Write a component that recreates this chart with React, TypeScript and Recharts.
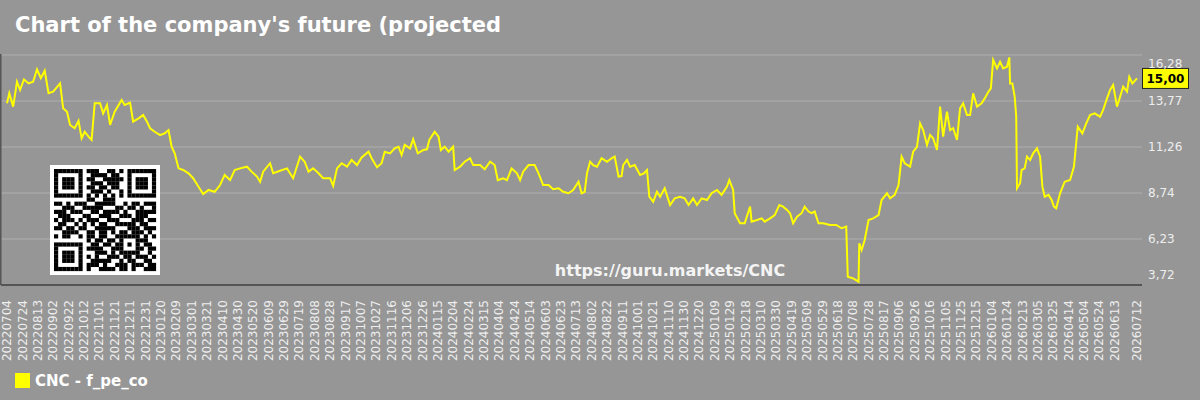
import { LineChart, Line, XAxis, YAxis, CartesianGrid, ReferenceLine } from "recharts";

// x axis labels, every 20 days plus the last date
const tickLabels = [
  "20220704", "20220724", "20220813", "20220902", "20220922", "20221012", "20221101", "20221121",
  "20221211", "20221231", "20230120", "20230209", "20230301", "20230321", "20230410", "20230430",
  "20230520", "20230609", "20230629", "20230719", "20230808", "20230828", "20230917", "20231007",
  "20231027", "20231116", "20231206", "20231226", "20240115", "20240204", "20240224", "20240315",
  "20240404", "20240424", "20240514", "20240603", "20240623", "20240713", "20240802", "20240822",
  "20240911", "20241001", "20241021", "20241110", "20241130", "20241220", "20250109", "20250129",
  "20250218", "20250310", "20250330", "20250419", "20250509", "20250529", "20250618", "20250708",
  "20250728", "20250817", "20250906", "20250926", "20251016", "20251105", "20251125", "20251215",
  "20260104", "20260124", "20260213", "20260305", "20260325", "20260414", "20260504", "20260524",
  "20260613", "20260712",
];

// days since 2022-07-04
const days = [
  0, 3, 8, 13, 17, 22, 28, 34, 39, 44, 49, 54, 60, 69, 73, 78, 82, 88, 93, 97, 101, 106, 110, 114,
  121, 125, 130, 134, 140, 149, 153, 160, 164, 171, 177, 182, 186, 192, 199, 205, 210, 214, 218, 223,
  229, 236, 242, 249, 255, 262, 270, 277, 283, 290, 296, 303, 312, 318, 325, 329, 333, 342, 346, 355,
  364, 372, 381, 387, 392, 398, 405, 411, 420, 424, 429, 435, 442, 448, 455, 461, 470, 474, 481, 487,
  491, 498, 504, 509, 513, 517, 524, 528, 534, 541, 546, 549, 556, 561, 564, 569, 574, 580, 582, 589,
  595, 602, 606, 615, 621, 628, 634, 638, 645, 650, 656, 663, 667, 671, 678, 686, 691, 697, 704, 710,
  717, 723, 730, 736, 743, 747, 751, 754, 758, 762, 767, 773, 780, 786, 790, 795, 799, 801, 806, 810,
  816, 823, 828, 832, 835, 840, 845, 849, 855, 862, 868, 875, 881, 886, 892, 897, 903, 910, 916, 923,
  929, 936, 939, 944, 946, 953, 959, 966, 968, 975, 981, 985, 992, 998, 1004, 1009, 1014, 1018, 1022,
  1027, 1033, 1037, 1042, 1046, 1050, 1055, 1061, 1070, 1078, 1085, 1091, 1093, 1100, 1107, 1108, 1111,
  1115, 1120, 1126, 1133, 1137, 1144, 1148, 1154, 1159, 1163, 1167, 1174, 1178, 1183, 1187, 1191, 1196,
  1200, 1204, 1209, 1213, 1217, 1222, 1226, 1230, 1235, 1239, 1243, 1248, 1252, 1256, 1261, 1267, 1271,
  1276, 1279, 1282, 1287, 1291, 1295, 1300, 1303, 1304, 1307, 1310, 1312, 1313, 1317, 1319, 1323, 1326,
  1330, 1334, 1339, 1343, 1346, 1349, 1354, 1358, 1361, 1364, 1369, 1375, 1382, 1387, 1392, 1398, 1403,
  1408, 1414, 1421, 1425, 1430, 1434, 1438, 1443, 1447, 1451, 1456, 1459, 1463, 1469,
];

const values = [
  13.64, 14.19, 13.46, 14.82, 14.37, 14.95, 14.73, 14.82, 15.5, 15.01, 15.42, 14.19, 14.28, 14.73, 13.37, 13.18,
  12.46, 12.28, 12.69, 11.73, 12.09, 11.82, 11.64, 13.64, 13.64, 13.09, 13.55, 12.46, 13.18, 13.82, 13.55, 13.68,
  12.64, 12.82, 13.0, 12.64, 12.28, 12.09, 11.91, 12.0, 12.18, 11.27, 10.91, 10.09, 10.0, 9.82, 9.55, 9.09,
  8.69, 8.91, 8.81, 9.18, 9.73, 9.45, 10.0, 10.09, 10.18, 9.91, 9.64, 9.36, 9.91, 10.37, 9.82, 9.96,
  10.09, 9.55, 10.73, 10.45, 9.91, 10.09, 9.82, 9.55, 9.55, 9.13, 10.09, 10.37, 10.18, 10.55, 10.27, 10.69,
  11.0, 10.64, 10.15, 10.37, 11.0, 10.91, 11.18, 11.27, 10.82, 11.37, 11.18, 11.68, 10.91, 11.09, 11.13, 11.64,
  12.09, 11.82, 11.09, 11.27, 11.0, 11.27, 10.0, 10.18, 10.45, 10.64, 10.27, 10.27, 10.04, 10.45, 10.27, 9.45,
  9.55, 9.45, 10.09, 9.82, 9.45, 9.91, 10.27, 10.27, 9.82, 9.18, 9.18, 8.95, 9.0, 8.81, 8.73, 8.91,
  9.36, 8.73, 8.81, 9.82, 10.45, 10.27, 10.18, 10.64, 10.45, 10.64, 10.73, 9.64, 9.67, 10.27, 10.55, 10.18,
  10.27, 9.73, 9.82, 10.0, 8.54, 8.27, 8.81, 8.54, 9.0, 8.09, 8.45, 8.54, 8.45, 8.09, 8.45, 8.09,
  8.45, 8.36, 8.73, 8.91, 8.64, 9.09, 9.45, 8.91, 7.64, 7.09, 7.09, 8.0, 7.18, 7.27, 7.36, 7.18,
  7.36, 7.54, 8.09, 8.0, 7.82, 7.64, 7.09, 7.45, 7.64, 8.0, 7.73, 7.64, 7.73, 7.09, 7.09, 7.0,
  7.0, 6.82, 6.91, 4.17, 4.08, 3.9, 6.0, 5.63, 6.18, 7.27, 7.36, 7.54, 8.36, 8.73, 8.45, 8.64,
  9.18, 10.73, 10.37, 10.18, 11.0, 11.27, 12.55, 12.18, 11.37, 11.91, 11.73, 11.09, 13.46, 11.82, 13.18, 12.18,
  12.28, 11.64, 13.37, 13.64, 13.0, 13.0, 14.19, 13.46, 13.64, 13.91, 14.28, 14.46, 16.01, 15.55, 15.91, 15.55,
  15.64, 16.15, 14.73, 14.73, 14.0, 12.91, 9.0, 9.28, 10.0, 10.09, 10.73, 10.55, 10.91, 11.18, 10.73, 9.09,
  8.54, 8.64, 8.36, 8.0, 7.91, 8.73, 9.36, 9.45, 10.18, 12.37, 12.0, 12.55, 13.0, 13.09, 12.91, 13.28,
  13.91, 14.37, 14.64, 13.46, 14.0, 14.55, 14.28, 15.09, 14.73, 15.0,
];

const yTicks = [3.72, 6.23, 8.74, 11.26, 13.77, 16.28];

const seriesName = "CNC - f_pe_co";
const title = "Chart of the company's future (projected";
const watermark = "https://guru.markets/CNC";

// QR code modules (25x25), 1 = black
const qrRows = [
  "1111111011100110101111111",
  "1000001001111011001000001",
  "1011101011001111101011101",
  "1011101001110111001011101",
  "1011101011011011001011101",
  "1000001001110100101000001",
  "1111111010101010101111111",
  "0000000011001110000000000",
  "1101011100111110010110111",
  "0011100111110001101101001",
  "1110111001101111010011111",
  "0111000110011100111011100",
  "1011101011100111000111011",
  "0110010101011001111101100",
  "1101101100111110001110111",
  "0011110011011010110111010",
  "1011001011011001111110101",
  "0000000010110110100011100",
  "1111111001101101101010110",
  "1000001011110011100011011",
  "1011101000111010111110010",
  "1011101010100111011011101",
  "1011101001111100101100110",
  "1000001011101001110111011",
  "1111111010011110110100111",
];

const FONT = "DejaVu Sans";
const BG = "#969696";

const startMs = Date.UTC(2022, 6, 4);
const toDay = (s: string) =>
  Math.round(
    (Date.UTC(+s.slice(0, 4), +s.slice(4, 6) - 1, +s.slice(6, 8)) - startMs) / 86400000
  );
const tickDays = tickLabels.map(toDay);
const labelByDay = new Map(tickDays.map((d, i) => [d, tickLabels[i]]));

const data = days.map((d, i) => ({ day: d, value: values[i] }));
const lastValue = values[values.length - 1];
const fmt = (v: number) => v.toFixed(2).replace(".", ",");

const DateTick = (props: any) => {
  const { x, y, payload } = props;
  const ty = y + 15;
  return (
    <text
      x={x}
      y={ty}
      transform={`rotate(-90 ${x} ${ty})`}
      textAnchor="end"
      dy="0.35em"
      fontSize={12}
      fontFamily={FONT}
      fill="#eeeeee"
    >
      {labelByDay.get(payload.value)}
    </text>
  );
};

const ValueTick = (props: any) => {
  const { x, y, payload } = props;
  const v = payload.value;
  // first and last labels sit inside the plot range
  const shift = v === yTicks[yTicks.length - 1] ? 9 : v === yTicks[0] ? -10 : 0;
  return (
    <text x={x} y={y + shift} dy="0.35em" fontSize={12} fontFamily={FONT} fill="#eeeeee">
      {fmt(v)}
    </text>
  );
};

const LastLabel = (props: any) => {
  const vb = props.viewBox;
  if (!vb) return null;
  const x = vb.x + vb.width;
  const y = vb.y;
  return (
    <g>
      <rect x={x + 0.5} y={y - 10} width={46} height={20} fill="#ffff00" stroke="#222" strokeWidth={1} />
      <text
        x={x + 23.5}
        y={y}
        dy="0.36em"
        textAnchor="middle"
        fontSize={12}
        fontWeight="bold"
        fontFamily={FONT}
        fill="#000"
      >
        {fmt(lastValue)}
      </text>
    </g>
  );
};

const QrCode = () => {
  const cell = 4.08;
  const pad = 4;
  return (
    <g transform="translate(50 165)">
      <rect x={0} y={0} width={110} height={110} fill="#ffffff" />
      {qrRows.map((row, r) =>
        row.split("").map((c, col) =>
          c === "1" ? (
            <rect
              key={`${r}-${col}`}
              x={pad + col * cell}
              y={pad + r * cell}
              width={cell + 0.1}
              height={cell + 0.1}
              fill="#000"
            />
          ) : null
        )
      )}
    </g>
  );
};

export default function App() {
  return (
    <div
      style={{
        position: "absolute",
        left: 0,
        top: 0,
        width: 1200,
        height: 400,
        background: BG,
        overflow: "hidden",
      }}
    >
      <LineChart
        width={1200}
        height={400}
        data={data}
        margin={{ top: 55, right: 0, left: 1, bottom: 0 }}
        style={{ position: "absolute", left: 0, top: 0 }}
      >
        <CartesianGrid vertical={false} stroke="#a6a6a6" strokeWidth={1.5} />
        <XAxis
          dataKey="day"
          type="number"
          domain={[0, tickDays[tickDays.length - 1]]}
          ticks={tickDays}
          interval={0}
          height={115}
          padding={{ left: 6, right: 5 }}
          tick={<DateTick />}
          tickLine={false}
          tickSize={0}
          tickMargin={0}
          axisLine={{ stroke: "#555555", strokeWidth: 2 }}
        />
        <YAxis
          orientation="right"
          type="number"
          domain={[yTicks[0], yTicks[yTicks.length - 1]]}
          ticks={yTicks}
          interval={0}
          width={58}
          tick={<ValueTick />}
          tickLine={false}
          tickSize={0}
          tickMargin={6}
          axisLine={false}
        />
        <Line
          type="linear"
          dataKey="value"
          name={seriesName}
          stroke="#ffff00"
          strokeWidth={2}
          dot={false}
          isAnimationActive={false}
        />
        <ReferenceLine y={lastValue} stroke="none" label={LastLabel} />
      </LineChart>
      <svg
        width={1200}
        height={400}
        style={{ position: "absolute", left: 0, top: 0, pointerEvents: "none" }}
      >
        <text x={15} y={32} fontSize={21} fontWeight="bold" fontFamily={FONT} fill="#ffffff">
          {title}
        </text>
        <rect x={0} y={54} width={1.5} height={231} fill="#555555" />
        <QrCode />
        <text
          x={670}
          y={276}
          textAnchor="middle"
          fontSize={16}
          fontWeight="bold"
          fontFamily={FONT}
          fill="#f4f4f4"
        >
          {watermark}
        </text>
        <rect x={15} y={373} width={15} height={15} fill="#ffff00" />
        <text x={35} y={386} fontSize={15} fontWeight="bold" fontFamily={FONT} fill="#ffffff">
          {seriesName}
        </text>
      </svg>
    </div>
  );
}
